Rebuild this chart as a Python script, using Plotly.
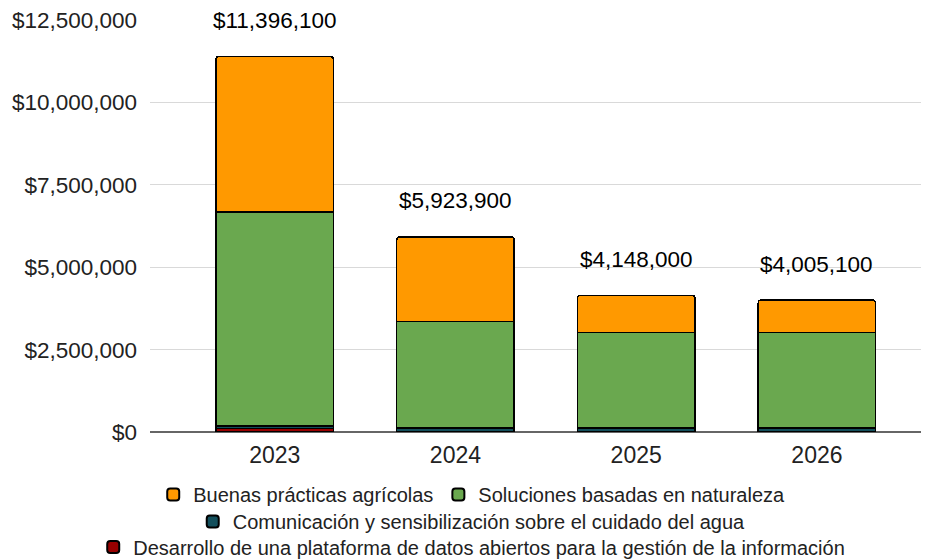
import plotly.graph_objects as go

years = ["2023", "2024", "2025", "2026"]
buenas = [4716100, 2573900, 1128000, 985100]
soluciones = [6500000, 3230000, 2900000, 2900000]
comunicacion = [80000, 120000, 120000, 120000]
desarrollo = [100000, 0, 0, 0]
totals = [11396100, 5923900, 4148000, 4005100]
total_labels = ["$11,396,100", "$5,923,900", "$4,148,000", "$4,005,100"]
y_ticks = [0, 2500000, 5000000, 7500000, 10000000, 12500000]
y_tick_labels = ["$0", "$2,500,000", "$5,000,000", "$7,500,000", "$10,000,000", "$12,500,000"]

series = [
    ("Desarrollo de una plataforma de datos abiertos para la gestión de la información", desarrollo, "#990000", "legend3"),
    ("Comunicación y sensibilización sobre el cuidado del agua", comunicacion, "#134f5c", "legend2"),
    ("Soluciones basadas en naturaleza", soluciones, "#6aa84f", "legend"),
    ("Buenas prácticas agrícolas", buenas, "#ff9900", "legend"),
]

FONT = "Liberation Sans, Arial"

fig = go.Figure()
for name, vals, color, lg in series:
    fig.add_trace(go.Bar(
        x=years, y=vals, name=name, marker=dict(color=color, line=dict(color="#000000", width=1.5)),
        legend=lg, width=0.65,
    ))

for i, (tot, lab) in enumerate(zip(totals, total_labels)):
    fig.add_annotation(x=i, y=tot, text=lab, showarrow=False, yshift=36,
                       font=dict(size=22.5, color="#000000", family=FONT))

legend_common = dict(orientation="h", xanchor="center", x=0.413, yanchor="middle",
                     font=dict(size=20, color="#222222", family=FONT),
                     bgcolor="rgba(0,0,0,0)", itemsizing="constant")

fig.update_layout(
    width=921, height=551,
    margin=dict(l=142, r=0, t=12, b=127, autoexpand=False),
    plot_bgcolor="white", paper_bgcolor="white",
    barmode="stack", barcornerradius=3,
    font=dict(family=FONT, color="#222222"),
    legend=dict(y=-0.152, traceorder="reversed", **legend_common),
    legend2=dict(y=-0.217, **legend_common),
    legend3=dict(y=-0.279, **legend_common),
    xaxis=dict(type="category", range=[-0.69, 3.62], showline=False, ticks="",
               tickfont=dict(size=23, color="#222222"), ticklabelstandoff=7),
    yaxis=dict(range=[0, 12500000 * 1.0004], tickmode="array", tickvals=y_ticks, ticktext=y_tick_labels,
               tickfont=dict(size=22.5, color="#222222"), gridcolor="#d9d9d9",
               zeroline=True, zerolinecolor="#666666", zerolinewidth=2, ticklabelstandoff=12,
               automargin=False),
)
fig.write_html("out.html")
